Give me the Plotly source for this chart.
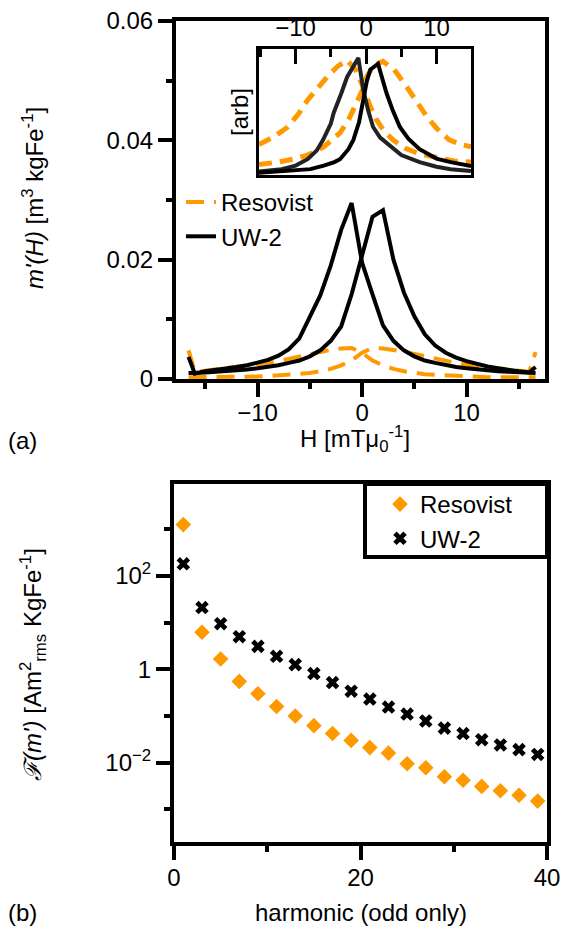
import plotly.graph_objects as go

# ---------------- data ----------------
H_MAIN = [-16.6, -16, -15, -14, -13, -12, -11, -10, -9, -8, -7, -6, -5, -4, -3, -2, -1,
          0, 1, 2, 3, 4, 5, 6, 7, 8, 9, 10, 11, 12, 13, 14, 15, 16, 16.6]

RESO_A = [0.0048, 0.0012, 0.0014, 0.0016, 0.0018, 0.0020, 0.0022, 0.0024, 0.0027, 0.0030,
          0.0034, 0.0038, 0.0042, 0.0046, 0.0049, 0.0051, 0.0052,
          0.0044, 0.0031, 0.0023, 0.0017, 0.0013, 0.0010, 0.0008, 0.0007, 0.0006, 0.0005,
          0.0004, 0.0004, 0.0003, 0.0003, 0.0003, 0.0003, 0.0003, 0.0003]
RESO_B = [0.0003, 0.0003, 0.0003, 0.0003, 0.0003, 0.0003, 0.0004, 0.0004, 0.0005, 0.0006,
          0.0007, 0.0008, 0.0010, 0.0013, 0.0017, 0.0023, 0.0031,
          0.0044, 0.0052, 0.0051, 0.0049, 0.0046, 0.0042, 0.0038, 0.0034, 0.0030, 0.0027,
          0.0024, 0.0022, 0.0020, 0.0018, 0.0016, 0.0014, 0.0012, 0.0045]
UW2_A = [0.0037, 0.0009, 0.0013, 0.0015, 0.0017, 0.0020, 0.0023, 0.0027, 0.0032, 0.0039,
         0.0050, 0.0068, 0.0105, 0.0140, 0.0190, 0.0250, 0.0295,
         0.0195, 0.0142, 0.0090, 0.0064, 0.0048, 0.0038, 0.0031, 0.0027, 0.0023, 0.0020,
         0.0018, 0.0016, 0.0014, 0.0013, 0.0012, 0.0011, 0.0010, 0.0010]
UW2_B = [0.0010, 0.0010, 0.0011, 0.0012, 0.0013, 0.0014, 0.0016, 0.0018, 0.0020, 0.0023,
         0.0027, 0.0031, 0.0038, 0.0048, 0.0064, 0.0088, 0.0142,
         0.0205, 0.0272, 0.0283, 0.0200, 0.0145, 0.0105, 0.0075, 0.0056, 0.0044, 0.0036,
         0.0030, 0.0025, 0.0021, 0.0018, 0.0015, 0.0013, 0.0011, 0.0020]

# inset (normalised)
INS_UW2_A_X = [-15.2, -12, -10, -8.3, -7, -6.1, -5, -4.6, -3.5, -2.7, -1.1, -0.4, 0.3, 1.0, 2, 3.4, 5, 7.6, 10, 12, 14.9]
INS_UW2_A_Y = [0.03, 0.05, 0.08, 0.135, 0.21, 0.30, 0.44, 0.53, 0.70, 0.835, 1.0, 0.73, 0.55, 0.41, 0.32, 0.245, 0.17, 0.11, 0.07, 0.05, 0.035]
INS_UW2_B_X = [-15.2, -12, -10, -7.9, -6, -4.5, -3.7, -2.5, -1.8, -1.0, -0.4, 0.1, 0.6, 1.7, 2.9, 3.8, 4.8, 6, 7.6, 10, 12, 14.9]
INS_UW2_B_Y = [0.02, 0.03, 0.04, 0.05, 0.08, 0.11, 0.135, 0.22, 0.30, 0.45, 0.64, 0.80, 0.90, 0.95, 0.70, 0.55, 0.41, 0.31, 0.22, 0.14, 0.11, 0.076]
INS_RESO_A_X = [-15.2, -13, -11.1, -9.5, -8.3, -7, -5.5, -4, -2.7, -1.5, -0.4, 0.5, 1.5, 2.5, 3.8, 5.5, 7.6, 10, 12.5, 14.9]
INS_RESO_A_Y = [0.26, 0.33, 0.41, 0.53, 0.64, 0.74, 0.84, 0.93, 0.98, 0.90, 0.75, 0.60, 0.47, 0.38, 0.30, 0.23, 0.18, 0.15, 0.12, 0.11]
INS_RESO_B_X = [-15.2, -12.5, -10, -8.3, -6, -3.7, -2.5, -1.3, -0.4, 0.1, 1.2, 2.4, 4, 5.8, 7.2, 8.6, 10, 11.8, 13.5, 14.9]
INS_RESO_B_Y = [0.09, 0.11, 0.14, 0.17, 0.24, 0.36, 0.47, 0.62, 0.74, 0.84, 0.94, 0.97, 0.90, 0.75, 0.62, 0.50, 0.40, 0.30, 0.26, 0.24]

# harmonics
HARMONICS = [1, 3, 5, 7, 9, 11, 13, 15, 17, 19, 21, 23, 25, 27, 29, 31, 33, 35, 37, 39]
RESO_HARM = [1260, 6.2, 1.66, 0.55, 0.30, 0.16, 0.10, 0.062, 0.042, 0.030,
             0.021, 0.016, 0.0095, 0.0078, 0.0050, 0.0042, 0.0031, 0.0025, 0.0020, 0.0015]
UW2_HARM = [182, 21, 9.5, 5.0, 3.1, 1.9, 1.26, 0.81, 0.52, 0.34,
            0.23, 0.155, 0.11, 0.078, 0.055, 0.042, 0.031, 0.024, 0.019, 0.015]

ORANGE = "#FF9900"
FONT = "Liberation Sans, Arial, Helvetica, sans-serif"
W, HGT = 562, 933


def px(x):
    return x / W


def py(y):
    return 1 - y / HGT


fig = go.Figure()

# main panel
fig.add_trace(go.Scatter(x=H_MAIN, y=RESO_A, mode="lines", name="Resovist",
                         line=dict(color=ORANGE, width=4, dash="18px,10px"),
                         xaxis="x", yaxis="y", legend="legend"))
fig.add_trace(go.Scatter(x=H_MAIN, y=RESO_B, mode="lines", showlegend=False,
                         line=dict(color=ORANGE, width=4, dash="18px,10px"),
                         xaxis="x", yaxis="y"))
fig.add_trace(go.Scatter(x=H_MAIN, y=UW2_A, mode="lines", name="UW-2",
                         line=dict(color="black", width=4),
                         xaxis="x", yaxis="y", legend="legend"))
fig.add_trace(go.Scatter(x=H_MAIN, y=UW2_B, mode="lines", showlegend=False,
                         line=dict(color="black", width=4),
                         xaxis="x", yaxis="y"))

# inset
fig.add_trace(go.Scatter(x=INS_RESO_A_X, y=INS_RESO_A_Y, mode="lines", showlegend=False,
                         line=dict(color=ORANGE, width=5, dash="13px,8px"), xaxis="x3", yaxis="y3"))
fig.add_trace(go.Scatter(x=INS_RESO_B_X, y=INS_RESO_B_Y, mode="lines", showlegend=False,
                         line=dict(color=ORANGE, width=5, dash="13px,8px"), xaxis="x3", yaxis="y3"))
fig.add_trace(go.Scatter(x=INS_UW2_A_X, y=INS_UW2_A_Y, mode="lines", showlegend=False,
                         line=dict(color="#222222", width=4), xaxis="x3", yaxis="y3"))
fig.add_trace(go.Scatter(x=INS_UW2_B_X, y=INS_UW2_B_Y, mode="lines", showlegend=False,
                         line=dict(color="black", width=4), xaxis="x3", yaxis="y3"))

# bottom panel
fig.add_trace(go.Scatter(x=HARMONICS, y=RESO_HARM, mode="markers", name="Resovist",
                         marker=dict(symbol="diamond", size=12, color=ORANGE),
                         xaxis="x2", yaxis="y2", legend="legend2"))
fig.add_trace(go.Scatter(x=HARMONICS, y=UW2_HARM, mode="markers", name="UW-2",
                         marker=dict(symbol="x", size=12, color="black"),
                         xaxis="x2", yaxis="y2", legend="legend2"))

axis_common = dict(showline=True, linecolor="black", linewidth=4, mirror=True,
                   showgrid=False, zeroline=False, ticks="outside", ticklen=14,
                   tickwidth=4, tickcolor="black", automargin=False,
                   tickfont=dict(size=24, color="black", family=FONT))
minor_common = dict(ticklen=6, tickwidth=4, ticks="outside", tickcolor="black")

fig.update_layout(
    template="none",
    width=W, height=HGT,
    margin=dict(l=0, r=0, t=0, b=0, pad=0),
    paper_bgcolor="white", plot_bgcolor="white",
    font=dict(family=FONT, size=24, color="black"),
    xaxis=dict(domain=[px(176), px(545)], range=[-17.8, 17.5], anchor="y",
               tickvals=[-10, 0, 10], ticktext=["\u221210", "0", "10"],
               ticklabelstandoff=-5,
               minor=dict(tickvals=[-15, -5, 5, 15], **minor_common),
               **axis_common),
    yaxis=dict(domain=[py(379), py(21)], range=[0, 0.06], anchor="x",
               tickvals=[0, 0.02, 0.04, 0.06], ticktext=["0", "0.02", "0.04", "0.06"],
               minor=dict(tickvals=[0.01, 0.03, 0.05], **minor_common),
               **axis_common),
    xaxis2=dict(domain=[px(174), px(547)], range=[0, 40], anchor="y2",
                tickvals=[0, 20, 40], ticktext=["0", "20", "40"],
                ticklabelstandoff=-3,
                minor=dict(tickvals=[10, 30], **minor_common),
                **axis_common),
    yaxis2=dict(domain=[py(842), py(484)], type="log", range=[-3.7, 3.97], anchor="x2",
                tickvals=[0.01, 1, 100],
                ticktext=["10<sup>\u22122</sup>", "1", "10<sup>2</sup>"],
                minor=dict(tickvals=[0.001, 0.1, 10, 1000], **minor_common),
                **axis_common),
    xaxis3=dict(domain=[px(259), px(471)], range=[-15.2, 14.9], anchor="y3", side="top",
                showline=True, linecolor="black", linewidth=3, mirror=True, automargin=False,
                showgrid=False, zeroline=False, ticks="inside", ticklen=15, tickwidth=3,
                tickcolor="black", tickvals=[-10, 0, 10], ticktext=["\u221210", "0", "10"],
                tickfont=dict(size=24, color="black", family=FONT),
                minor=dict(tickvals=[-15, -5, 5, 15], ticklen=8, tickwidth=3,
                           ticks="inside", tickcolor="black")),
    yaxis3=dict(domain=[py(175), py(49)], range=[0, 1.076], anchor="x3", automargin=False,
                showline=True, linecolor="black", linewidth=3, mirror=True,
                showgrid=False, zeroline=False, ticks="", showticklabels=False),
    legend=dict(x=px(181), y=py(180), xanchor="left", yanchor="top",
                bgcolor="rgba(0,0,0,0)", borderwidth=0,
                font=dict(size=24, family=FONT, color="black"), tracegroupgap=0),
    legend2=dict(x=px(380), y=py(482), xanchor="left", yanchor="top",
                 bgcolor="rgba(0,0,0,0)", borderwidth=0,
                 font=dict(size=24, family=FONT, color="black"), tracegroupgap=0),
    showlegend=True,
)

fig.add_shape(type="rect", xref="x3 domain", yref="y3 domain", x0=0, x1=1, y0=0, y1=1,
              fillcolor="#e8e8e8", line=dict(width=0), layer="below")
fig.add_shape(type="rect", xref="paper", yref="paper", x0=px(365), x1=px(547),
              y0=py(557), y1=py(484), line=dict(color="black", width=4),
              fillcolor="rgba(0,0,0,0)")

ann = dict(xref="paper", yref="paper", showarrow=False, xanchor="center", yanchor="middle",
           font=dict(size=24, family=FONT, color="black"))
fig.add_annotation(x=px(33), y=py(198), text="<i>m'(H)</i> [m<sup>3</sup> kgFe<sup>-1</sup>]",
                   textangle=-90, **ann)
fig.add_annotation(x=px(355), y=py(439), text="H [mT\u03bc<sub>0</sub><sup>-1</sup>]", **ann)
fig.add_annotation(x=px(22), y=py(440), text="(a)", **ann)
fig.add_annotation(x=px(240), y=py(112), text="[arb]", textangle=-90, **ann)
fig.add_annotation(x=px(22), y=py(912), text="(b)", **ann)
fig.add_annotation(x=px(361), y=py(912), text="harmonic (odd only)", **ann)
fig.add_annotation(x=px(33), y=py(665),
                   text="<i>\u2131(m')</i> [Am<sup>2</sup><sub>rms</sub> KgFe<sup>-1</sup>]",
                   textangle=-90, **ann)

fig.write_html("out.html")
